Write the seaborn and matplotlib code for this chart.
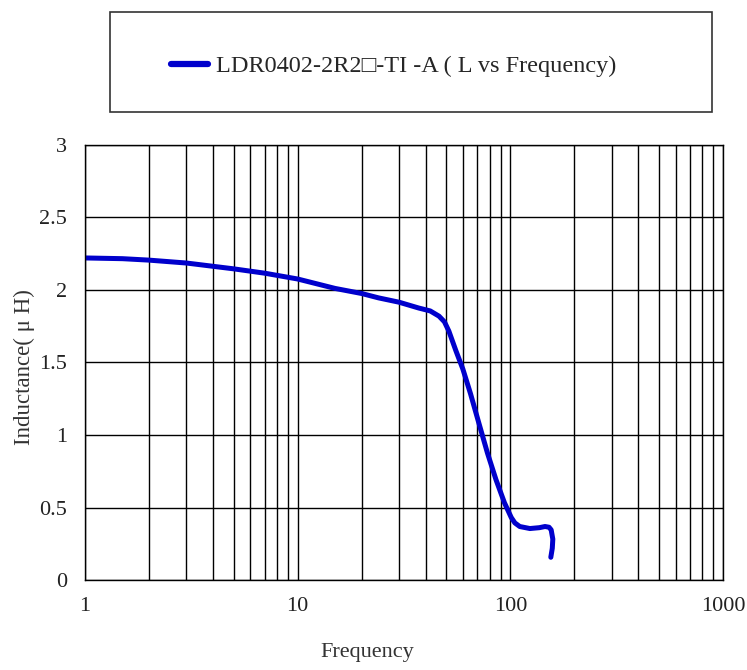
import numpy as np
import pandas as pd
import matplotlib
matplotlib.use("Agg")
import matplotlib.pyplot as plt
import seaborn as sns
from matplotlib.patches import Rectangle
from matplotlib.ticker import FixedLocator, LogLocator, NullFormatter

# values (frequency in MHz, inductance in uH)
freq = [1, 1.5, 2, 3, 5, 7, 10, 15, 20, 24, 30, 37.1, 42, 46.2, 49, 51.4, 55.5, 59.8,
        65.0, 71.2, 78.1, 85.6, 93.8, 101, 105, 110.7, 123.6, 137, 145.6, 152, 155.6,
        158.4, 157.5, 155]
induct = [2.22, 2.215, 2.205, 2.185, 2.145, 2.115, 2.075, 2.01, 1.975, 1.945, 1.915,
          1.875, 1.855, 1.819, 1.78, 1.716, 1.58, 1.455, 1.284, 1.08, 0.875, 0.693,
          0.534, 0.432, 0.395, 0.37, 0.356, 0.362, 0.37, 0.365, 0.347, 0.283, 0.22, 0.158]
series_name = "LDR0402-2R2\u25a1-TI -A ( L vs Frequency)"
x_ticks = [1, 10, 100, 1000]
x_labels = ["1", "10", "100", "1000"]
y_ticks = [0, 0.5, 1, 1.5, 2, 2.5, 3]
y_labels = ["0", "0.5", "1", "1.5", "2", "2.5", "3"]

df = pd.DataFrame({"Frequency": freq, "Inductance": induct, "series": series_name})

sns.set_style("white")
plt.rcParams["font.family"] = ["Liberation Serif", "DejaVu Serif"]

fig = plt.figure(figsize=(7.47, 6.70), dpi=100)
ax = fig.add_axes([85 / 747, 0.134, 638 / 747, 0.65])

sns.lineplot(data=df, x="Frequency", y="Inductance", hue="series", palette=["#0000CC"],
             sort=False, estimator=None, linewidth=3.6, ax=ax, legend=False,
             solid_capstyle="round", solid_joinstyle="round")

ax.set_xscale("log")
ax.set_xlim(1, 1000)
ax.set_ylim(0, 3)
ax.xaxis.set_major_locator(FixedLocator(x_ticks))
ax.set_xticklabels(x_labels)
ax.xaxis.set_minor_locator(LogLocator(base=10, subs=np.arange(2, 10)))
ax.xaxis.set_minor_formatter(NullFormatter())
ax.set_yticks(y_ticks)
ax.set_yticklabels(y_labels)
ax.grid(True, which="both", axis="x", color="black", linewidth=1)
ax.grid(True, which="major", axis="y", color="black", linewidth=1)
ax.tick_params(axis="both", which="both", length=0, labelsize=16, colors="#222222")
ax.tick_params(axis="x", pad=12)
ax.tick_params(axis="y", pad=13)
for s in ax.spines.values():
    s.set_color("black")
    s.set_linewidth(1)

ax.set_xlabel("Frequency", fontsize=16, color="#333333")
ax.xaxis.set_label_coords((367 - 85) / 638, -0.145)
ax.set_ylabel("Inductance( \u03bc H)", fontsize=16.5, color="#333333")
ax.yaxis.set_label_coords(-0.078, 0.49)

# legend box at the top
fig.patches.append(Rectangle((110 / 747, 1 - 112 / 670), 602 / 747, 100 / 670,
                             transform=fig.transFigure, fill=False,
                             edgecolor="#333333", linewidth=1.2))
handle = plt.Line2D([], [], color="#0000CC", linewidth=4.5)
fig.legend([handle], [series_name], loc="center", bbox_to_anchor=(394 / 747, 1 - 66 / 670),
           frameon=False, fontsize=17.5, handlelength=1.5, handletextpad=0.35)

fig.savefig("out.png", dpi=100)
